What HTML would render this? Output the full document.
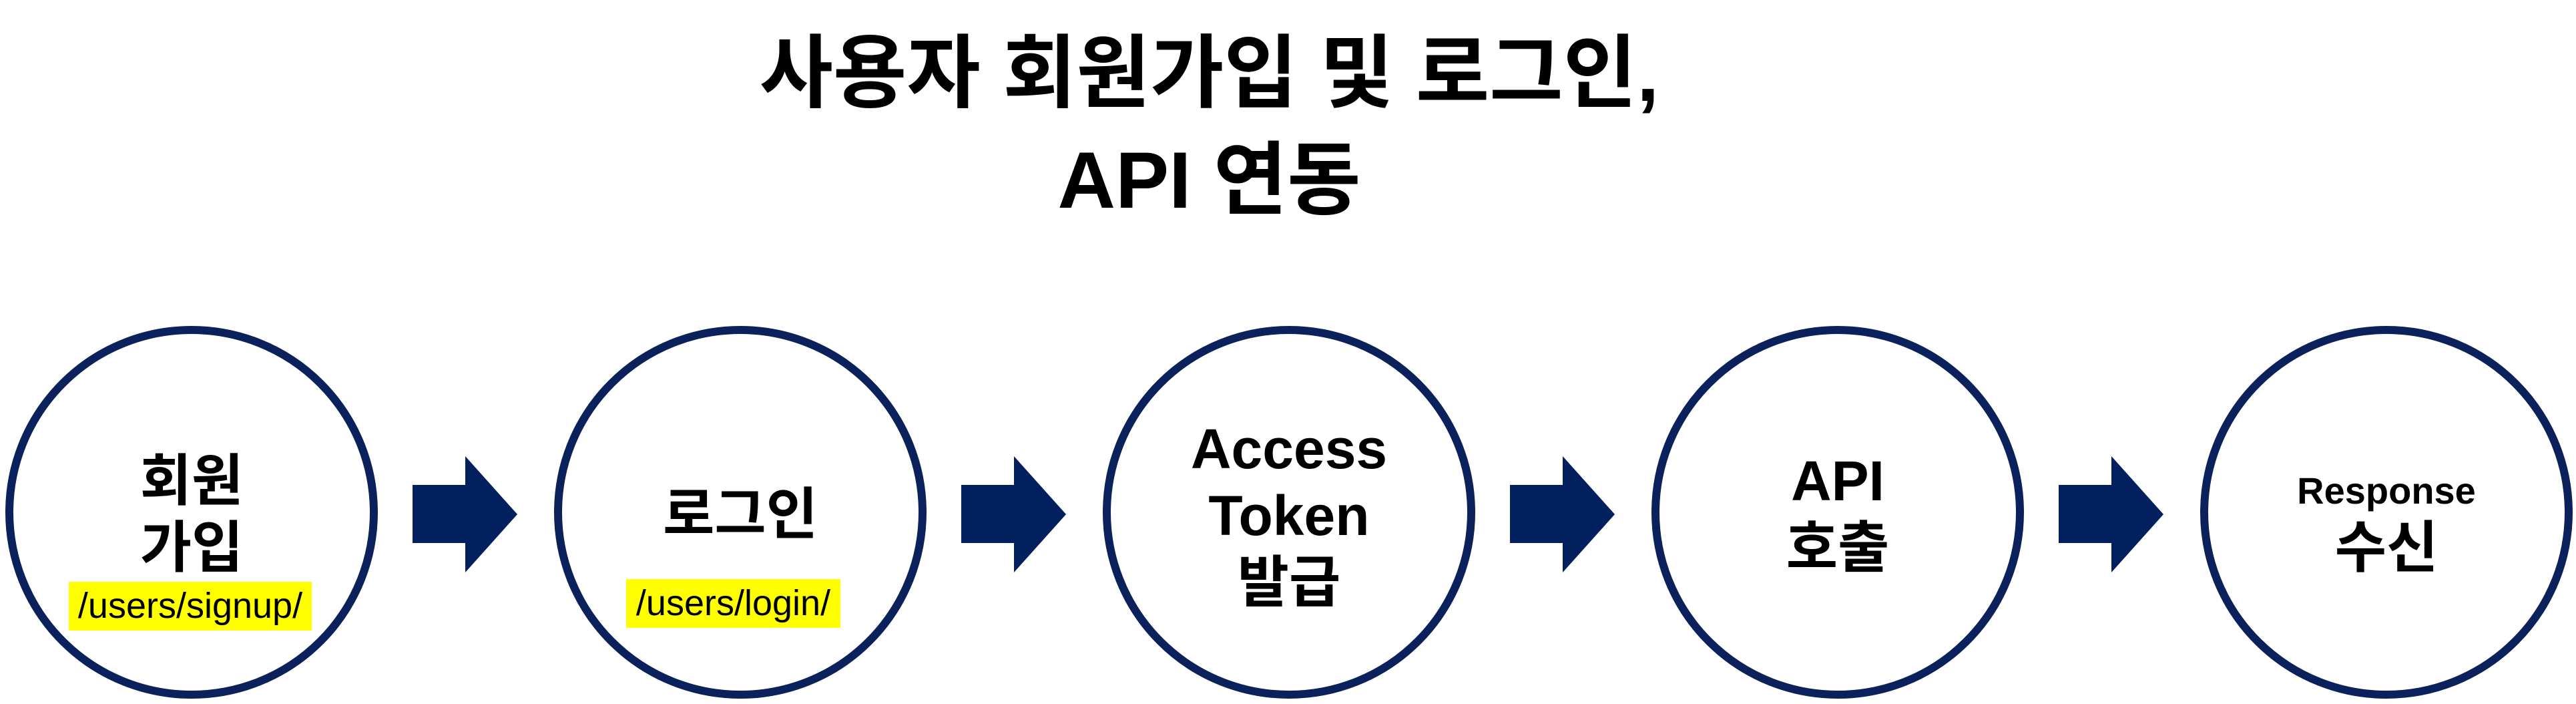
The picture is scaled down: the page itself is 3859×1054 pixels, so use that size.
<!DOCTYPE html>
<html><head><meta charset="utf-8"><style>
html,body{margin:0;padding:0;background:#fff;}
body{width:3859px;height:1054px;position:relative;overflow:hidden;font-family:"Liberation Sans","Noto Sans CJK KR",sans-serif;}
.t{position:absolute;left:-118px;width:3859px;text-align:center;font-weight:bold;font-size:120px;line-height:120px;color:#000;}
.c{position:absolute;width:558px;height:558px;border:12px solid #0a215c;border-radius:50%;box-sizing:border-box;top:488px;}
.l{position:absolute;text-align:center;font-weight:bold;color:#000;width:560px;font-size:84px;line-height:100px;}
.y{position:absolute;background:#ffff00;font-size:54px;line-height:73px;text-align:center;color:#000;}
</style></head><body>
<div class="t" style="top:50px">사용자 회원가입 및 로그인,</div>
<div class="t" style="top:210px">API 연동</div>
<svg width="3859" height="1054" style="position:absolute;left:0;top:0">
<g fill="#03205e">
<polygon points="618,726 697,726 697,683 775,770 697,857 697,813 618,813"/>
<polygon points="1440,726 1519,726 1519,683 1597,770 1519,857 1519,813 1440,813"/>
<polygon points="2262,726 2341,726 2341,683 2419,770 2341,857 2341,813 2262,813"/>
<polygon points="3084,726 3163,726 3163,683 3241,770 3163,857 3163,813 3084,813"/>
</g></svg>
<div class="c" style="left:8px"></div>
<div class="c" style="left:830px"></div>
<div class="c" style="left:1652px"></div>
<div class="c" style="left:2474px"></div>
<div class="c" style="left:3296px"></div>
<div class="l" style="left:7px;top:670px">회원<br>가입</div>
<div class="y" style="left:103px;top:871px;width:364px">/users/signup/</div>
<div class="l" style="left:829px;top:720px">로그인</div>
<div class="y" style="left:938px;top:867px;width:321px">/users/login/</div>
<div class="l" style="left:1651px;top:622px">Access<br>Token<br>발급</div>
<div class="l" style="left:2473px;top:670px">API<br>호출</div>
<div class="l" style="left:3295px;top:700px;font-size:56px;line-height:70px">Response</div>
<div class="l" style="left:3295px;top:770px">수신</div>
</body></html>
